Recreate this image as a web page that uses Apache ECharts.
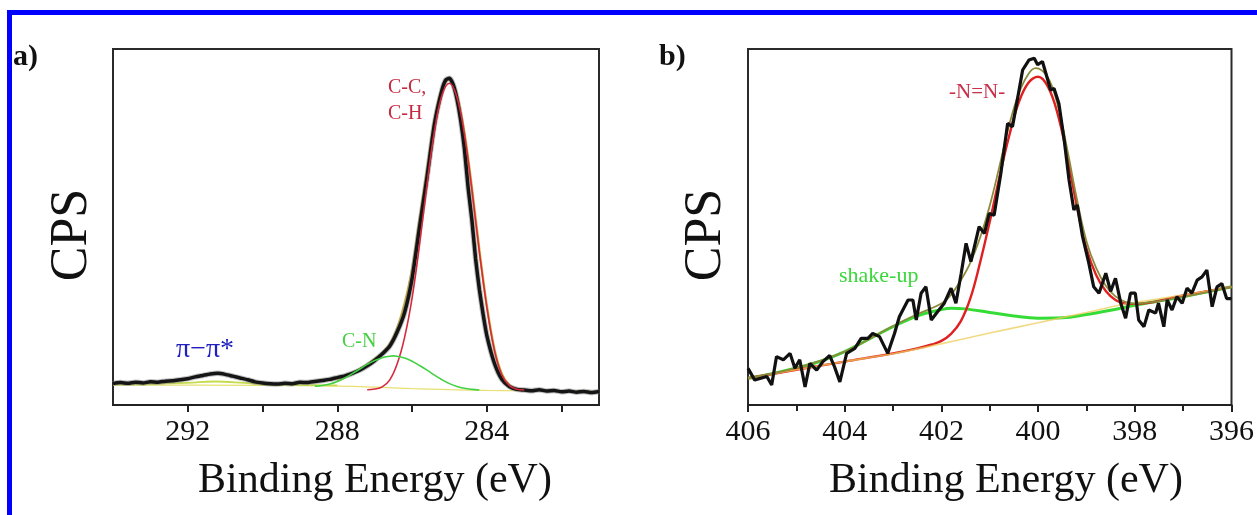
<!DOCTYPE html>
<html><head><meta charset="utf-8">
<script src="https://cdn.jsdelivr.net/npm/echarts@6/dist/echarts.min.js"></script>
<style>html,body{margin:0;padding:0;background:#fff}#c{width:1257px;height:515px}</style>
</head><body><div id="c"></div>
<script>
// ---------- Panel a (C 1s) ----------
const aTickValues = [292, 290, 288, 286, 284, 282];
const aLabelValues = [292, 288, 284];
const aData = [
 [294.0,6.0],[293.8,6.3],[293.6,6.1],[293.4,6.4],[293.2,6.2],[293.0,6.5],[292.8,6.4],[292.6,6.7],[292.4,6.8],[292.2,7.1],
 [292.0,7.4],[291.8,7.9],[291.6,8.3],[291.4,8.7],[291.2,8.9],[291.0,8.6],[290.8,8.1],[290.6,7.6],[290.4,7.1],[290.2,6.5],
 [290.0,6.2],[289.8,6.0],[289.6,5.9],[289.4,6.1],[289.2,6.0],[289.0,6.4],[288.8,6.3],[288.6,6.6],[288.4,6.9],[288.2,7.2],
 [288.0,7.7],[287.8,8.2],[287.6,8.9],[287.4,9.8],[287.2,11.0],[287.0,12.5],[286.8,14.3],[286.6,16.5],[286.4,20.5],[286.2,26.0],
 [286.0,35.5],[285.8,50.0],[285.6,64.0],[285.4,79.0],[285.2,88.5],[285.1,91.3],[285.0,91.8],[284.9,90.0],[284.8,86.0],[284.7,80.0],
 [284.6,72.0],[284.5,61.0],[284.4,52.0],[284.3,41.0],[284.2,32.5],[284.1,25.5],[284.0,19.5],[283.8,11.8],[283.6,7.2],[283.4,5.2],
 [283.2,4.4],[283.0,4.2],[282.8,4.0],[282.6,4.3],[282.4,3.9],[282.2,4.1],[282.0,3.7],[281.8,3.9],[281.6,3.6],[281.4,3.8],[281.2,3.5],[281.0,3.8]
];
const aEnvelope = [
 [288.0,6.8],[287.6,8.8],[287.2,11.4],[287.0,12.9],[286.8,14.6],[286.6,17.0],[286.4,21.5],[286.2,28.5],[286.0,38.0],[285.8,52.0],
 [285.6,66.0],[285.4,80.0],[285.2,89.0],[285.0,91.6],[284.8,87.0],[284.6,76.5],[284.4,61.0],[284.2,43.5],[284.0,27.8],[283.8,15.8],
 [283.6,8.7],[283.4,5.6],[283.2,4.5],[283.0,4.2]
];
const aCC = [
 [287.2,4.3],[287.0,4.5],[286.8,5.1],[286.6,7.0],[286.4,11.5],[286.2,19.0],[286.0,30.0],[285.8,45.0],[285.6,62.0],[285.4,77.0],
 [285.2,87.0],[285.0,90.4],[284.8,86.5],[284.6,76.0],[284.4,60.5],[284.2,43.0],[284.0,27.5],[283.8,15.5],[283.6,8.5],[283.4,5.5],[283.2,4.4],[283.0,4.2]
];
const aCN = [
 [288.6,5.3],[288.4,5.5],[288.2,5.9],[288.0,6.6],[287.8,7.6],[287.6,8.8],[287.4,10.1],[287.2,11.4],[287.0,12.5],[286.8,13.3],
 [286.6,13.7],[286.5,13.8],[286.4,13.7],[286.2,13.2],[286.0,12.3],[285.8,11.1],[285.6,9.8],[285.4,8.4],[285.2,7.1],[285.0,6.0],
 [284.8,5.2],[284.6,4.7],[284.4,4.4],[284.2,4.2]
];
const aPi = [[294.0,5.8],[293.0,5.9],[292.0,6.2],[291.3,6.6],[290.5,6.2],[290.0,5.8],[289.0,5.6],[288.0,5.5]];
const aBackground = [[294.0,5.6],[290.0,5.5],[288.0,5.3],[287.0,5.0],[286.0,4.6],[285.0,4.3],[284.0,4.1],[283.0,4.0],[281.0,3.9]];

// ---------- Panel b (N 1s) ----------
const bData = [
 [406.0,10.3],[405.86,7.0],[405.61,8.0],[405.51,5.6],[405.41,13.6],[405.27,12.7],[405.13,14.5],[405.03,10.3],[404.93,12.7],[404.82,5.1],
 [404.72,11.7],[404.58,9.8],[404.45,12.2],[404.31,13.9],[404.21,10.7],[404.10,6.5],[403.96,14.5],[403.79,15.9],[403.66,18.7],[403.52,18.7],
 [403.42,20.1],[403.28,19.2],[403.11,14.5],[402.97,20.1],[402.87,24.8],[402.69,29.5],[402.59,29.5],[402.52,23.9],[402.42,31.4],[402.32,33.2],
 [402.21,23.9],[402.08,26.2],[401.94,28.6],[401.80,32.8],[401.70,28.6],[401.59,37.0],[401.49,45.4],[401.39,40.3],[401.22,50.1],[401.11,48.2],
 [401.01,53.8],[400.91,53.3],[400.77,65.1],[400.63,79.1],[400.53,78.2],[400.43,85.7],[400.32,94.1],[400.19,96.9],[400.08,97.4],[400.01,95.6],
 [399.91,96.5],[399.84,93.2],[399.74,88.5],[399.67,88.9],[399.57,84.7],[399.46,74.4],[399.36,63.2],[399.26,54.8],[399.19,56.2],[399.08,47.3],
 [398.95,39.8],[398.85,33.2],[398.74,31.4],[398.60,37.0],[398.50,31.9],[398.40,35.6],[398.29,28.6],[398.19,24.4],[398.09,31.4],[397.99,31.4],
 [397.92,23.9],[397.81,22.0],[397.71,26.7],[397.57,25.8],[397.51,28.6],[397.40,22.0],[397.33,29.5],[397.23,26.7],[397.13,30.4],[397.02,28.6],
 [396.92,32.8],[396.82,31.4],[396.71,35.1],[396.61,36.0],[396.51,37.9],[396.40,27.6],[396.30,33.2],[396.20,34.1],[396.10,29.9],[396.0,29.9]
];
const bNN = [
 [406.0,7.5],[405.0,9.9],[404.0,12.2],[403.0,14.5],[402.5,15.9],[402.2,17.0],[402.0,18.0],[401.8,20.0],[401.6,23.5],[401.4,30.0],
 [401.2,40.0],[401.0,51.5],[400.8,64.0],[400.6,75.5],[400.4,85.0],[400.2,90.5],[400.0,92.2],[399.8,89.5],[399.6,82.0],[399.4,70.0],
 [399.2,56.0],[399.0,44.0],[398.8,36.5],[398.6,32.0],[398.4,29.5],[398.2,28.5],[398.0,28.4],[397.0,30.8],[396.0,33.2]
];
const bShake = [
 [406.0,7.5],[405.5,8.8],[405.0,10.4],[404.5,12.3],[404.0,15.0],[403.5,18.5],[403.0,22.0],[402.5,25.0],[402.0,26.8],[401.8,27.2],
 [401.5,27.0],[401.0,26.0],[400.5,25.0],[400.0,24.4],[399.5,24.5],[399.0,25.4],[398.5,26.6],[398.0,28.0],[397.5,29.2],[397.0,30.4],[396.5,31.8],[396.0,33.2]
];
const bEnvelope = [
 [406.0,7.5],[405.0,10.4],[404.0,15.0],[403.0,22.2],[402.5,25.5],[402.0,28.5],[401.8,31.0],[401.6,35.0],[401.4,40.0],[401.2,47.0],
 [401.0,56.0],[400.8,67.0],[400.6,78.5],[400.4,87.5],[400.2,93.0],[400.05,94.6],[399.8,92.0],[399.6,84.5],[399.4,72.0],[399.2,58.0],
 [399.0,46.0],[398.8,38.5],[398.6,33.5],[398.4,30.5],[398.2,29.0],[398.0,28.5],[397.0,30.4],[396.0,33.2]
];
const bBackground = [[406.0,7.5],[405.0,9.9],[404.0,12.2],[403.0,14.4],[402.2,16.6],[401.0,20.2],[400.0,23.1],[399.0,26.0],[398.3,28.1],[397.0,30.9],[396.0,33.2]];

const SERIF = "'Liberation Serif','DejaVu Serif',serif";
const chart = echarts.init(document.getElementById('c'), null, {renderer: 'canvas'});

function line(data, xi, color, width, smooth, z, extra) {
  return {type: 'line', xAxisIndex: xi, yAxisIndex: xi, data: data, showSymbol: false, smooth: smooth,
    lineStyle: Object.assign({color: color, width: width}, extra || {}), z: z, animation: false, silent: true};
}
function xAx(gi, min, max, extra) {
  return Object.assign({type: 'value', gridIndex: gi, min: min, max: max, inverse: true,
    axisLine: {show: true, onZero: false, lineStyle: {color: '#222', width: 2}},
    axisTick: {show: true, inside: false, length: 7, lineStyle: {color: '#222', width: 2}},
    axisLabel: {fontSize: 30, fontFamily: SERIF, color: '#111', margin: 12},
    splitLine: {show: false}}, extra);
}
function yAx(gi) {
  return {type: 'value', gridIndex: gi, min: 0, max: 100, axisLine: {show: false}, axisTick: {show: false},
    axisLabel: {show: false}, splitLine: {show: false}};
}

chart.setOption({
  backgroundColor: '#fff',
  animation: false,
  grid: [
    {left: 113, top: 49, width: 486, height: 356, show: true, borderColor: '#2a2a2a', borderWidth: 2, backgroundColor: 'transparent'},
    {left: 748, top: 49, width: 485, height: 356, show: true, borderColor: '#2a2a2a', borderWidth: 2, backgroundColor: 'transparent'}
  ],
  xAxis: [
    xAx(0, 281, 294, {
      axisTick: {show: true, inside: false, length: 7, customValues: aTickValues, lineStyle: {color: '#222', width: 2}},
      axisLabel: {fontSize: 30, fontFamily: SERIF, color: '#111', margin: 12, customValues: aLabelValues}
    }),
    xAx(1, 396, 406, {interval: 2, minorTick: {show: true, splitNumber: 2, length: 6, lineStyle: {color: '#222', width: 2}}})
  ],
  yAxis: [yAx(0), yAx(1)],
  series: [
    line(aBackground, 0, '#e8e070', 1.2, 0.3, 2),
    line(aPi, 0, '#c4dc50', 1.8, 0.4, 3),
    line(aEnvelope, 0, '#d0b040', 2.5, 0.3, 4),
    line(aData, 0, '#8a8a8a', 5.5, 0.2, 5, {opacity: 0.55}),
    line(aData, 0, '#151515', 3.5, 0.2, 5),
    line(aCC, 0, '#d42a3c', 1.6, 0.4, 6),
    line(aCN, 0, '#44d044', 1.6, 0.4, 6),

    line(bShake, 1, '#36dc36', 3, 0.4, 3),
    line(bNN, 1, '#e02020', 2.4, 0.4, 4),
    line(bBackground, 1, 'rgba(236,206,90,0.75)', 1.6, 0.3, 4.5),
    line(bEnvelope, 1, '#8c8a3c', 1.8, 0.4, 5),
    line(bData, 1, '#111111', 3.2, false, 6)
  ],
  graphic: [
    {type: 'rect', shape: {x: 9.5, y: 12.5, width: 1400, height: 700}, style: {fill: 'none', stroke: '#0000ff', lineWidth: 5}, z: 100, silent: true},
    {type: 'text', x: 13, y: 42, style: {text: 'a)', font: "bold 30px " + SERIF, fill: '#111', textVerticalAlign: 'alphabetic'}, z: 100},
    {type: 'text', x: 659, y: 42, style: {text: 'b)', font: "bold 30px " + SERIF, fill: '#111', textVerticalAlign: 'alphabetic'}, z: 100},
    {type: 'text', x: 72, y: 235, rotation: Math.PI / 2, style: {text: 'CPS', font: "52px " + SERIF, fill: '#111', align: 'center', verticalAlign: 'middle'}, z: 100},
    {type: 'text', x: 706, y: 235, rotation: Math.PI / 2, style: {text: 'CPS', font: "52px " + SERIF, fill: '#111', align: 'center', verticalAlign: 'middle'}, z: 100},
    {type: 'text', x: 375, y: 481, style: {text: 'Binding Energy (eV)', font: "42px " + SERIF, fill: '#111', align: 'center', verticalAlign: 'middle'}, z: 100},
    {type: 'text', x: 1006, y: 481, style: {text: 'Binding Energy (eV)', font: "42px " + SERIF, fill: '#111', align: 'center', verticalAlign: 'middle'}, z: 100},
    {type: 'text', x: 388, y: 88, style: {text: 'C-C,', font: "20px " + SERIF, fill: '#c42a40', verticalAlign: 'middle'}, z: 100},
    {type: 'text', x: 388, y: 114, style: {text: 'C-H', font: "20px " + SERIF, fill: '#c42a40', verticalAlign: 'middle'}, z: 100},
    {type: 'text', x: 342, y: 342, style: {text: 'C-N', font: "20px " + SERIF, fill: '#44d044', verticalAlign: 'middle'}, z: 100},
    {type: 'text', x: 176, y: 350, style: {text: 'π−π*', font: "28px " + SERIF, fill: '#2020c0', verticalAlign: 'middle'}, z: 100},
    {type: 'text', x: 949, y: 92, style: {text: '-N=N-', font: "21px " + SERIF, fill: '#c8304a', verticalAlign: 'middle'}, z: 100},
    {type: 'text', x: 839, y: 276, style: {text: 'shake-up', font: "22px " + SERIF, fill: '#3ad83a', verticalAlign: 'middle'}, z: 100}
  ]
});
</script>
</body></html>
